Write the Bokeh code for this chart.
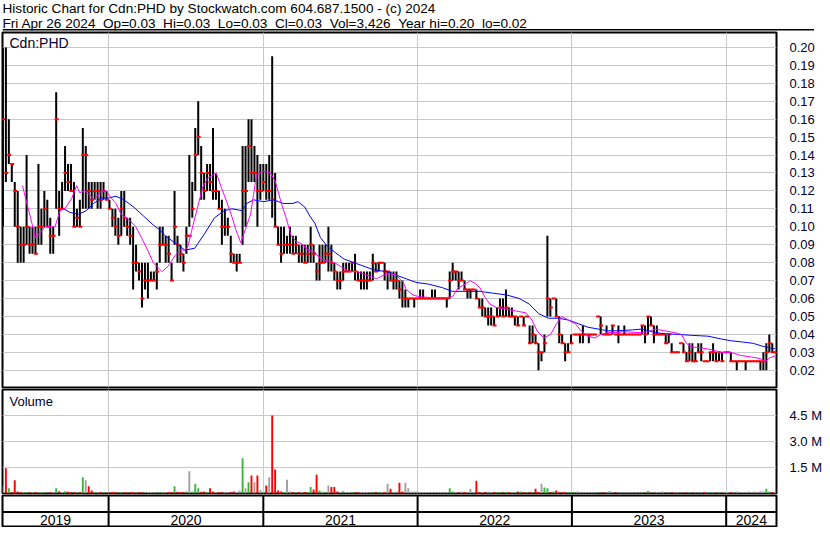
import numpy as np
import pandas as pd
from bokeh.plotting import figure
from bokeh.layouts import column
from bokeh.models import Range1d, FixedTicker, Label, NumeralTickFormatter, Span
from bokeh.embed import file_html
from bokeh.resources import INLINE
from bokeh.core.properties import value

# ---------------- data (weekly, prices in cents, volume in thousands) ----------------
first_week = "2019-04-26"
hi_c = [20,20,16,13.5,12.5,12,10,10,14,10,
        10,10,13.5,11,12,11.5,10.5,10,17.5,12,
        12.5,14.5,13.5,13.5,12.5,11,11.5,15.5,14.5,12.5,
        12.5,12.5,12.5,12.5,12.5,12,11.5,11,11,10.5,
        12,12,10.5,10.5,10,9,8,8,8,8,
        7.5,7.5,8,10,10,9.5,9.5,8,12,9.5,
        9,8.5,10,14,12.5,15.5,17,14.5,13,13.5,
        13.5,15.5,13,12,11.5,11,10.5,9.5,8.5,8.5,
        8.5,14.5,14.5,16,16,14.5,14,13.5,13.5,13.5,
        14,19.5,13,10,10,10,9.5,10,9.5,9.5,
        9,9,9,9,10,9,8,9,9,9,
        10,9,8,7.5,7.5,8,8,8,8,8.5,
        7.5,7.5,7.5,7.5,7.5,8.5,8,8,8,8,
        7.5,7.5,7.5,7.5,7,7,6.5,6,6,6,
        6,6.5,6.5,6,6,6.5,6.5,6,6,6,
        6,7.5,8,7.5,7.5,7.5,7,6.5,6.5,6.5,
        6.5,6,6,5.5,5.5,5.5,5,5.5,6,6,
        6.5,5.5,5.5,5,5,5,5,5,4.5,4.5,
        4,3.5,3,4,9.5,6,6,6,5,4,
        3.5,3.5,4,4,4,4,4.5,4,4,4,
        4,5,5,4,4.5,4,4.5,4,4.5,4,
        4.5,4,4,4,4,4,4.5,4.5,5,5,
        4.5,4.5,4,4,4,4,3.5,3,3,3.5,
        3.5,3,3.5,3.5,3,3.5,3.5,2.5,2.5,3,
        3.5,3,3,3,3,3,3,2.5,2.5,2.5,
        2.5,2.5,2.5,2.5,2.5,2.5,2.5,3,3.5,4,
        3.5,3]
lo_c = [10,12.5,13.5,12.5,10,8,8,8,9,8.5,
        8.5,8.5,9,9,10,10,8.5,8.5,11,9.5,
        11,12,12,12,10,10,10,11,11,11,
        11,11.5,11,11,11.5,11.5,11,10,9.5,9,
        9.5,10,9.5,9,6.5,7.5,7,5.5,6.5,6,
        7,7,6.5,8,9,8,8,7,9,8,
        8,7.5,8.5,10,10.5,12,14,11.5,11.5,12,
        12,11.5,11.5,11,9,9.5,9.5,8,8,7.5,
        8,9,10,12.5,12.5,12.5,10,11.5,12,11.5,
        11.5,10.5,10,9,8,8.5,8.5,8.5,8.5,8.5,
        8,8,8,8,8,8,7,7,8,8,
        7.5,7.5,7,6.5,6.5,7,7.5,7.5,7.5,7,
        7,6.5,6.5,6.5,7,7,7.5,7.5,8,7,
        6.5,7,6.5,6.5,6,5.5,5.5,5.5,6,5.5,
        6,6,6,6,6,6,6,6,6,6,
        5.5,6,7,7,6.5,7,6.5,6,6,6.5,
        6,5.5,5,5,4.5,4.5,4.5,5,5,5,
        5,5,5,4.5,4.5,5,4.5,5,3.5,3.5,
        3.5,2,2.5,3,5,5,6,5,3.5,3.5,
        2.5,3,3.5,4,4,3.5,3.5,4,3.5,4,
        4,5,4,4,4,4,4,4,3.5,4,
        4,4,4,4,4,4,4,3.5,4,4.5,
        3.5,4,4,4,3.5,3.5,3,3,3,3.5,
        3,2.5,2.5,2.5,2.5,3,2.5,2.5,2.5,2.5,
        2.5,2.5,2.5,2.5,3,3,2.5,2.5,2,2.5,
        2.5,2,2.5,2.5,2.5,2.5,2,2,2,3,
        3,3]
close_c = [16,13,14,13.5,12,10,9,9,10,9,
           9,8.5,10,10,11,10,9.5,9.5,16,11,
           11,13,12.5,12,10,10.5,10,14,14,12,
           11.5,12,12,11.5,12,11.5,11,10.5,10,9.5,
           11,10.5,10,9.5,8,8,7.5,6,7,7,
           7,7,7.5,9,9,9,8.5,7,10,9,
           8.5,8,9.5,9.5,11,14,15,13,12,13,
           12.5,12,12,11,10,10,10,8.5,8,8,
           8,12,12,14.5,13,13,12,12,12.5,12,
           12,11.5,10,9,8.5,9,9,9,8.5,9,
           8.5,8.5,8,8.5,9,8.5,7.5,8,8,8.5,
           8.5,8,7.5,7,7,7.5,7.5,7.5,8,7.5,
           7,7,7,7,7,8,7.5,8,8,7.5,
           7.5,7,7,7,6.5,6,6,6,6,6,
           6,6,6,6,6,6,6,6,6,6,
           6,7,7.5,7.5,7,7,6.5,6.5,6.5,6.5,
           6,5.5,5.5,5,5,5,4.5,5,5.5,5,
           5.5,5,5,5,4.5,5,4.5,5,3.5,4,
           3.5,3,3,3.5,6,5.5,6,5,4,3.5,
           3,3,3.5,4,4,4,4,4,4,4,
           4,5,4.5,4,4,4,4.5,4,4,4,
           4,4,4,4,4,4,4.5,4,5,4.5,
           4,4,4,4,3.5,4,3,3,3,3.5,
           3,2.5,3,2.5,2.5,3,3,2.5,2.5,3,
           3,2.5,3,2.5,3,3,2.5,2.5,2.5,2.5,
           2.5,2.5,2.5,2.5,2.5,2.5,2.5,2.5,3,3.5,
           3,3]
vol_k = [460,1460,300,90,770,110,70,80,90,70,
         70,90,80,70,70,50,70,70,300,130,
         90,130,100,70,80,70,70,940,770,420,
         170,100,90,70,70,50,70,90,70,50,
         70,70,50,70,70,50,70,70,50,70,
         90,70,50,70,70,50,70,90,420,100,
         70,90,110,1290,110,560,300,100,110,90,
         300,110,90,70,90,70,70,90,110,90,
         170,2040,300,650,1040,650,1040,200,90,460,
         940,4500,1380,170,110,90,800,130,90,70,
         80,70,90,70,370,230,1080,170,110,90,
         460,370,370,110,90,130,90,70,80,70,
         70,70,90,70,50,70,90,70,80,70,
         560,270,90,110,620,110,620,300,110,110,
         110,80,70,90,70,80,70,70,90,70,
         90,300,110,70,70,110,90,70,270,90,
         730,90,70,90,110,70,90,70,70,70,
         90,70,70,90,110,110,70,70,90,70,
         270,90,560,350,300,90,110,170,70,70,
         70,50,70,90,120,70,50,70,50,70,
         50,70,50,70,50,150,50,70,50,70,
         50,50,70,50,50,50,70,50,150,50,
         50,70,50,110,50,50,70,50,50,50,
         50,50,70,50,50,50,50,70,50,50,
         50,50,70,50,50,50,70,50,110,70,
         70,90,110,70,110,90,130,110,270,110,
         90,70]

# moving averages (week offset from first week, price)
ma_fast_wk = [6.6,11.0,14.3,17.6,19.3,20.9,23.3,24.9,25.9,27.6,29.2,30.9,33.2,34.9,36.6,38.2,39.9,41.5,43.2,44.9,
              46.5,48.9,50.8,53.2,53.8,55.8,58.2,59.8,61.5,62.5,63.8,65.8,67.5,69.1,72.1,73.8,75.4,77.1,78.8,80.4,
              81.4,83.7,84.7,85.7,88.1,90.4,92.1,94.1,95.7,97.4,99.0,101.4,103.0,105.4,107.3,109.7,112.0,114.0,117.0,119.6,
              123.0,126.3,128.6,130.6,132.9,135.3,136.3,138.6,140.6,145.2,149.6,151.9,153.9,156.2,157.9,159.5,161.2,162.8,164.5,166.8,
              170.2,173.5,176.8,178.8,180.5,182.8,185.1,187.1,188.8,191.1,193.4,195.4,197.7,200.1,202.1,204.4,207.7,209.4,215.0,218.3,
              220.3,223.7,227.0,229.3,231.0,232.6,236.0,239.3,242.6,245.9,249.3,252.6,255.9,257.6,259.2,260.9]
ma_fast = [.123,.094,.100,.100,.109,.110,.116,.123,.119,.120,.118,.115,.120,.120,.116,.113,.107,.105,.103,.100,
           .095,.087,.080,.076,.075,.078,.084,.087,.087,.089,.098,.111,.122,.127,.130,.122,.115,.107,.098,.091,
           .096,.107,.118,.129,.131,.130,.125,.113,.105,.095,.092,.090,.087,.086,.082,.081,.080,.078,.075,.075,
           .073,.071,.073,.074,.073,.069,.065,.062,.061,.0605,.0605,.061,.066,.068,.070,.0685,.066,.061,.057,.055,
           .054,.053,.052,.048,.042,.038,.040,.046,.050,.048,.046,.042,.039,.038,.040,.041,.041,.0415,.041,.0415,
           .043,.042,.041,.040,.035,.033,.0325,.0315,.030,.030,.0283,.0275,.0265,.025,.027,.028]
ma_slow_wk = [20.6,22.6,25.6,28.2,30.6,33.2,35.6,38.2,40.9,44.2,47.5,50.8,53.2,54.8,58.2,61.5,64.8,68.1,71.5,74.8,
              77.4,80.8,82.4,84.7,88.1,91.4,94.7,98.0,99.7,102.0,103.7,105.4,107.3,109.7,112.0,115.3,118.6,122.0,125.3,129.6,
              132.9,136.3,139.6,143.9,148.6,151.9,156.2,161.2,165.5,170.2,174.5,177.8,181.1,184.4,187.8,191.1,194.4,197.7,201.1,204.4,
              207.7,212.7,216.0,219.3,222.7,228.3,232.6,238.3,242.6,245.9,250.2,253.6,256.9,259.2,260.9]
ma_slow = [.110,.108,.107,.109,.113,.116,.116,.117,.115,.111,.106,.101,.098,.095,.091,.087,.088,.096,.105,.109,
           .110,.109,.113,.115,.114,.115,.113,.113,.114,.111,.106,.102,.094,.089,.086,.082,.080,.078,.076,.075,
           .073,.071,.069,.068,.066,.064,.064,.064,.063,.062,.060,.057,.0515,.049,.049,.048,.046,.044,.043,.042,
           .042,.0425,.043,.0415,.0405,.040,.0395,.039,.0375,.0365,.0357,.035,.0333,.0325,.032]

price_ticks = [0.02,0.03,0.04,0.05,0.06,0.07,0.08,0.09,0.10,0.11,0.12,0.13,0.14,0.15,0.16,0.17,0.18,0.19,0.20]
vol_ticks = [1500000, 3000000, 4500000]
vol_tick_labels = ["1.5 M", "3.0 M", "4.5 M"]
years = [2019, 2020, 2021, 2022, 2023, 2024]
NB = " \u00a0"   # double space that survives SVG whitespace collapsing
title_1 = "Historic Chart for Cdn:PHD by Stockwatch.com 604.687.1500 - (c) 2024"
title_2 = NB.join(["Fri Apr 26 2024", "Op=0.03", "Hi=0.03", "Lo=0.03", "Cl=0.03",
                   "Vol=3,426", "Year hi=0.20", "lo=0.02"])

# ---------------- derived ----------------
hi = np.array(hi_c) / 100.0
lo = np.array(lo_c) / 100.0
cl = np.array(close_c) / 100.0
vol = np.array(vol_k) * 1000.0
t0 = pd.Timestamp(first_week)
dates = t0 + pd.to_timedelta(np.arange(len(hi)) * 7, unit="D")
fast_x = t0 + pd.to_timedelta(np.array(ma_fast_wk) * 7, unit="D")
slow_x = t0 + pd.to_timedelta(np.array(ma_slow_wk) * 7, unit="D")
chg = np.diff(cl, prepend=cl[0])
vcol = ["#3cb43c" if d > 0 else ("#ff0000" if d < 0 else "#a0a0a0") for d in chg]
flat = hi == lo

x_start = dates[0] - pd.Timedelta(days=1)
x_end = dates[-1] + pd.Timedelta(days=3)
xr = Range1d(x_start, x_end)
year_starts = [pd.Timestamp(f"{y}-01-01") for y in years[1:]]
year_ms = [ts.value / 1e6 for ts in year_starts]
bounds = [x_start] + year_starts + [x_end]
year_mid = [bounds[i] + (bounds[i + 1] - bounds[i]) / 2 for i in range(len(years))]

FONT = "Liberation Sans"
GRID = "#c8c8c8"
FW = 774

def base(**kw):
    f = figure(output_backend="svg", toolbar_location=None, frame_width=FW,
               min_border_left=2, min_border_right=38, min_border_top=1, min_border_bottom=1, **kw)
    f.outline_line_color = "black"
    f.outline_line_width = 2
    return f

# ---------------- header ----------------
h = figure(output_backend="svg", toolbar_location=None, frame_width=812, frame_height=29,
           x_range=Range1d(0, 1), y_range=Range1d(0, 1), x_axis_location=None, y_axis_location=None,
           min_border_left=2, min_border_right=0, min_border_top=1, min_border_bottom=1)
h.outline_line_color = None
h.xgrid.visible = False
h.ygrid.visible = False
h.text(x=[0.0, 0.0], y=[0.75, 0.25], text=[title_1, title_2], text_font=value(FONT),
       text_font_size="13.6px", text_color="black", text_baseline="middle", text_align="left")
h.add_layout(Span(location=0.02, dimension="width", line_color="black", line_width=2))

# ---------------- price ----------------
p = base(x_range=xr, y_range=Range1d(0.0104, 0.2083), x_axis_type="datetime",
         x_axis_location=None, y_axis_location="right", frame_height=355)
p.yaxis.ticker = FixedTicker(ticks=price_ticks)
p.yaxis.formatter = NumeralTickFormatter(format="0.00")
p.xgrid.ticker = FixedTicker(ticks=year_ms)
for g in (p.xgrid, p.ygrid):
    g.grid_line_color = GRID
    g.grid_line_width = 1
p.segment(x0=dates[~flat], y0=lo[~flat], x1=dates[~flat], y1=hi[~flat], line_color="black", line_width=2)
p.scatter(x=dates + pd.Timedelta(days=1), y=cl, marker="dash", size=4, line_color="#ff0000", line_width=2)
p.line(x=slow_x, y=ma_slow, line_color="#0000ff", line_width=1)
p.line(x=fast_x, y=ma_fast, line_color="#ff00ff", line_width=1)
p.add_layout(Label(x=x_start, y=0.2083, x_offset=7, y_offset=-2, text="Cdn:PHD", text_baseline="top",
                   text_font=FONT, text_font_size="14px", text_color="#000033"))

# ---------------- volume ----------------
v = base(x_range=xr, y_range=Range1d(0, 6.0e6), x_axis_type="datetime",
         x_axis_location=None, y_axis_location="right", frame_height=104)
v.yaxis.ticker = FixedTicker(ticks=vol_ticks)
v.yaxis.major_label_overrides = {k: s for k, s in zip(vol_ticks, vol_tick_labels)}
v.xgrid.ticker = FixedTicker(ticks=year_ms)
for g in (v.xgrid, v.ygrid):
    g.grid_line_color = GRID
    g.grid_line_width = 1
v.vbar(x=dates, top=vol, width=4.5 * 86400000, fill_color=vcol, line_color=None)
v.add_layout(Label(x=x_start, y=6.0e6, x_offset=7, y_offset=-4, text="Volume", text_baseline="top",
                   text_font=FONT, text_font_size="13px", text_color="#000033"))

for f in (p, v):
    ax = f.yaxis[0]
    ax.axis_line_color = None
    ax.major_tick_line_color = None
    ax.minor_tick_line_color = None
    ax.major_label_standoff = 7
    ax.major_label_text_font = FONT
    ax.major_label_text_font_size = "13px"
    ax.major_label_text_color = "#000033"

# ---------------- time axis ----------------
xa = base(x_range=xr, y_range=Range1d(0, 1), x_axis_type="datetime",
          x_axis_location=None, y_axis_location=None, frame_height=31)
xa.xgrid.visible = False
xa.ygrid.visible = False
xa.segment(x0=year_starts, y0=0, x1=year_starts, y1=1, line_color="black", line_width=2)
xa.add_layout(Span(location=0.47, dimension="width", line_color="black", line_width=2))
xa.text(x=year_mid, y=0.22, text=[str(y) for y in years], text_font=value(FONT), text_font_size="14px",
        text_color="black", text_align="center", text_baseline="middle")

layout = column(h, p, v, xa, spacing=0)
open("out.html", "w").write(file_html(layout, INLINE))
